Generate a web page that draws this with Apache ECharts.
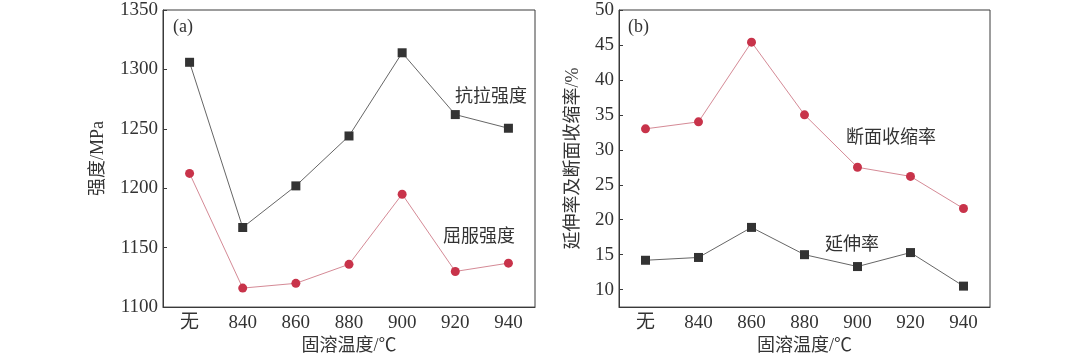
<!DOCTYPE html>
<html>
<head>
<meta charset="utf-8">
<script src="https://cdn.jsdelivr.net/npm/echarts@6/dist/echarts.min.js"></script>
<style>html,body{margin:0;padding:0;background:#fff}#c{width:1080px;height:360px}</style>
</head>
<body>
<div id="c"></div>
<script>
const categories = ['无', '840', '860', '880', '900', '920', '940'];
const tensileStrength = [1306, 1167, 1202, 1244, 1314, 1262, 1250.5];
const yieldStrength = [1212.5, 1116, 1120, 1136, 1195, 1130, 1137];
const areaReduction = [33, 34, 45.4, 35, 27.5, 26.2, 21.6];
const elongation = [14.2, 14.6, 18.9, 15.0, 13.3, 15.3, 10.5];
const leftTicks = [1100, 1150, 1200, 1250, 1300, 1350];
const rightTicks = [10, 15, 20, 25, 30, 35, 40, 45, 50];

const FONT = '"Liberation Serif", "Noto Sans CJK SC", serif';
const AX = '#3a3a3a';
const TXT = '#333';
const RED = '#c8334a';
const RED_LINE = '#d58a96';
const BLK = '#333';
const BLK_LINE = '#666';

function xAxis(gi) {
  return {
    type: 'category', gridIndex: gi, data: categories, boundaryGap: true,
    name: '固溶温度/℃', nameLocation: 'middle', nameGap: 29,
    nameTextStyle: { fontFamily: FONT, fontSize: 18, color: TXT },
    axisLine: { lineStyle: { color: AX, width: 1 } },
    axisTick: { inside: true, alignWithLabel: true, length: 4, lineStyle: { color: AX } },
    axisLabel: { fontFamily: FONT, fontSize: 19, color: TXT, margin: 6 },
    splitLine: { show: false }
  };
}

const option = {
  animation: false,
  backgroundColor: '#fff',
  grid: [
    { left: 163, top: 10, width: 372, height: 300, show: true, borderColor: AX, borderWidth: 1 },
    { left: 619, top: 10, width: 371, height: 300, show: true, borderColor: AX, borderWidth: 1 }
  ],
  xAxis: [xAxis(0), xAxis(1)],
  yAxis: [
    {
      type: 'value', gridIndex: 0, min: leftTicks[0], max: leftTicks[leftTicks.length - 1], interval: 50,
      name: '强度/MPa', nameLocation: 'middle', nameGap: 56, nameRotate: 90,
      nameTextStyle: { fontFamily: FONT, fontSize: 18, color: TXT },
      axisLine: { show: true, lineStyle: { color: AX, width: 1 } },
      axisTick: { show: true, inside: true, length: 4, lineStyle: { color: AX } },
      axisLabel: { fontFamily: FONT, fontSize: 19, color: TXT, margin: 5, formatter: v => String(v) },
      splitLine: { show: false }
    },
    {
      type: 'value', gridIndex: 1, min: 7.5, max: 50,
      name: '延伸率及断面收缩率/%', nameLocation: 'middle', nameGap: 37, nameRotate: 90,
      nameTextStyle: { fontFamily: FONT, fontSize: 18, color: TXT },
      axisLine: { show: true, lineStyle: { color: AX, width: 1 } },
      axisTick: { show: true, inside: true, length: 4, lineStyle: { color: AX }, customValues: rightTicks },
      axisLabel: { fontFamily: FONT, fontSize: 19, color: TXT, margin: 5, customValues: rightTicks },
      splitLine: { show: false }
    }
  ],
  series: [
    { name: '抗拉强度', type: 'line', xAxisIndex: 0, yAxisIndex: 0, data: tensileStrength,
      symbol: 'rect', symbolSize: 9, itemStyle: { color: BLK }, lineStyle: { color: BLK_LINE, width: 1 } },
    { name: '屈服强度', type: 'line', xAxisIndex: 0, yAxisIndex: 0, data: yieldStrength,
      symbol: 'circle', symbolSize: 9, itemStyle: { color: RED }, lineStyle: { color: RED_LINE, width: 1 } },
    { name: '断面收缩率', type: 'line', xAxisIndex: 1, yAxisIndex: 1, data: areaReduction,
      symbol: 'circle', symbolSize: 9, itemStyle: { color: RED }, lineStyle: { color: RED_LINE, width: 1 } },
    { name: '延伸率', type: 'line', xAxisIndex: 1, yAxisIndex: 1, data: elongation,
      symbol: 'rect', symbolSize: 9, itemStyle: { color: BLK }, lineStyle: { color: BLK_LINE, width: 1 } }
  ],
  graphic: [
    { type: 'text', left: 173, top: 18, style: { text: '(a)', font: '18px ' + FONT, fill: TXT } },
    { type: 'text', left: 455, top: 88, style: { text: '抗拉强度', font: '18px ' + FONT, fill: TXT } },
    { type: 'text', left: 443, top: 228, style: { text: '屈服强度', font: '18px ' + FONT, fill: TXT } },
    { type: 'text', left: 628, top: 18, style: { text: '(b)', font: '18px ' + FONT, fill: TXT } },
    { type: 'text', left: 846, top: 129, style: { text: '断面收缩率', font: '18px ' + FONT, fill: TXT } },
    { type: 'text', left: 825, top: 236, style: { text: '延伸率', font: '18px ' + FONT, fill: TXT } }
  ]
};
echarts.init(document.getElementById('c'), null, { renderer: 'canvas' }).setOption(option);
</script>
</body>
</html>
